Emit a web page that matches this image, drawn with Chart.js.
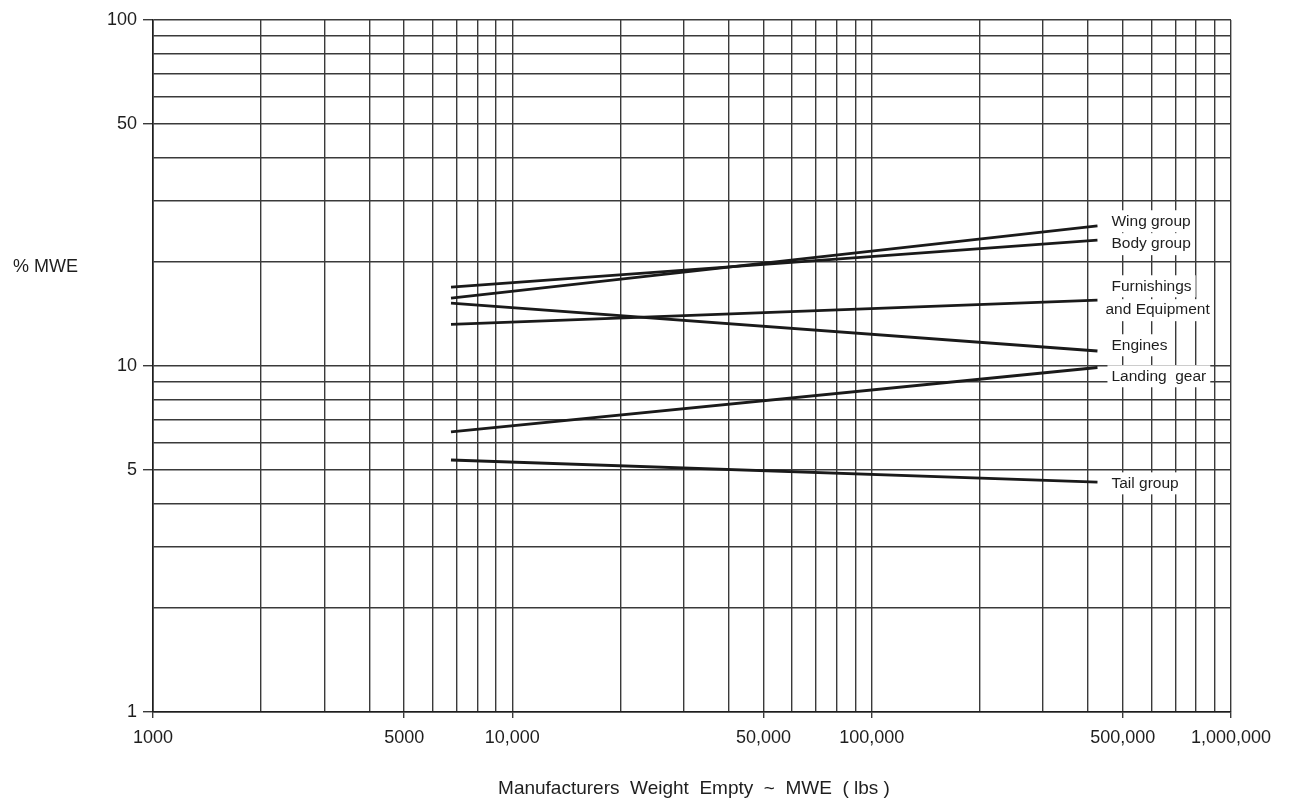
<!DOCTYPE html>
<html><head><meta charset="utf-8">
<script src="https://cdn.jsdelivr.net/npm/chart.js@4.4.1/dist/chart.umd.min.js"></script>
<style>html,body{margin:0;padding:0;background:#fff;}</style>
</head><body>
<canvas id="c" width="1301" height="803" style="display:block"></canvas>
<script>
// ---- data ----
const mweLbs       = [6750, 425000];          // x extent of every trend line
const wingGroup    = [15.7, 25.4];
const bodyGroup    = [16.9, 23.1];
const furnishings  = [13.2, 15.5];
const engines      = [15.2, 11.05];
const landingGear  = [6.45, 9.9];
const tailGroup    = [5.35, 4.62];

const seriesLabels = ['Wing group', 'Body group', 'Furnishings', 'and Equipment', 'Engines', 'Landing  gear', 'Tail group'];
const labelLevels  = [26.2, 22.5, 17.0, 14.5, 11.48, 9.34, 4.58];   // % MWE where each label sits

const xGridValues = [1000,2000,3000,4000,5000,6000,7000,8000,9000,
                     10000,20000,30000,40000,50000,60000,70000,80000,90000,
                     100000,200000,300000,400000,500000,600000,700000,800000,900000,1000000];
const yGridValues = [1,2,3,4,5,6,7,8,9,10,20,30,40,50,60,70,80,90,100];
const xTickValues = [1000, 5000, 10000, 50000, 100000, 500000, 1000000];
const xTickLabels = ['1000', '5000', '10,000', '50,000', '100,000', '500,000', '1,000,000'];
const yTickValues = [1, 5, 10, 50, 100];
const yTickLabels = ['1', '5', '10', '50', '100'];

const xTitle = 'Manufacturers  Weight  Empty  ~  MWE  ( lbs )';
const yTitle = '% MWE';

// ---- styling ----
const FONT = '"Liberation Sans", Arial, Helvetica, sans-serif';
const INK = '#1e1e1e';
const GRID = '#3a3a3a';

function pts(ys) { return mweLbs.map((x, i) => ({x: x, y: ys[i]})); }
const seriesData = [wingGroup, bodyGroup, furnishings, engines, landingGear, tailGroup];
const seriesNames = ['Wing group', 'Body group', 'Furnishings and Equipment', 'Engines', 'Landing gear', 'Tail group'];

const datasets = seriesData.map((d, i) => ({
  label: seriesNames[i],
  data: pts(d),
  borderColor: '#1a1a1a',
  borderWidth: 2.8,
  pointRadius: 0,
  tension: 0,
  fill: false
}));

const textPlugin = {
  id: 'texts',
  afterDatasetsDraw(chart) {
    const ctx = chart.ctx;
    const xs = chart.scales.x, ys = chart.scales.y;
    const endPx = xs.getPixelForValue(mweLbs[mweLbs.length - 1]);
    ctx.save();
    ctx.font = '15.5px ' + FONT;
    ctx.textBaseline = 'middle';
    ctx.textAlign = 'left';
    seriesLabels.forEach((t, i) => {
      const y = ys.getPixelForValue(labelLevels[i]);
      const x = endPx + (t === 'and Equipment' ? 8 : 14);
      const w = ctx.measureText(t).width;
      ctx.fillStyle = '#fff';
      ctx.fillRect(x - 4, y - 11, w + 8, 22);
      ctx.fillStyle = INK;
      ctx.fillText(t, x, y);
    });
    // axis titles
    ctx.font = '18px ' + FONT;
    ctx.textAlign = 'left';
    ctx.fillText(yTitle, 13, 267);
    ctx.font = '19px ' + FONT;
    ctx.textAlign = 'center';
    ctx.fillText(xTitle, (chart.chartArea.left + chart.chartArea.right) / 2 + 2, 789);
    ctx.restore();
  }
};

new Chart(document.getElementById('c'), {
  type: 'line',
  data: { datasets },
  plugins: [textPlugin],
  options: {
    responsive: false,
    animation: false,
    devicePixelRatio: 1,
    layout: { padding: { top: 20, right: 70, left: 0, bottom: 0 } },
    plugins: { legend: { display: false }, tooltip: { enabled: false } },
    scales: {
      x: {
        type: 'logarithmic',
        min: 1000, max: 1000000,
        afterBuildTicks: s => { s.ticks = xGridValues.map(v => ({ value: v })); },
        afterFit: s => { s.height = 91; },
        ticks: {
          autoSkip: false, maxRotation: 0, minRotation: 0,
          padding: 9, color: INK,
          font: { family: FONT, size: 18 },
          callback: v => { const k = xTickValues.indexOf(v); return k >= 0 ? xTickLabels[k] : ''; }
        },
        grid: {
          color: GRID, lineWidth: 1.4, tickLength: 6,
          tickColor: c => (c.tick && xTickValues.indexOf(c.tick.value) >= 0) ? GRID : 'rgba(0,0,0,0)'
        },
        border: { color: INK, width: 1.6 }
      },
      y: {
        type: 'logarithmic',
        min: 1, max: 100,
        afterBuildTicks: s => { s.ticks = yGridValues.map(v => ({ value: v })); },
        afterFit: s => { s.width = 153; },
        ticks: {
          autoSkip: false, padding: 6, color: INK,
          font: { family: FONT, size: 18 },
          callback: v => { const k = yTickValues.indexOf(v); return k >= 0 ? yTickLabels[k] : ''; }
        },
        grid: {
          color: GRID, lineWidth: 1.4, tickLength: 10,
          tickColor: c => (c.tick && yTickValues.indexOf(c.tick.value) >= 0) ? GRID : 'rgba(0,0,0,0)'
        },
        border: { color: INK, width: 1.6 }
      }
    }
  }
});
</script>
</body></html>
